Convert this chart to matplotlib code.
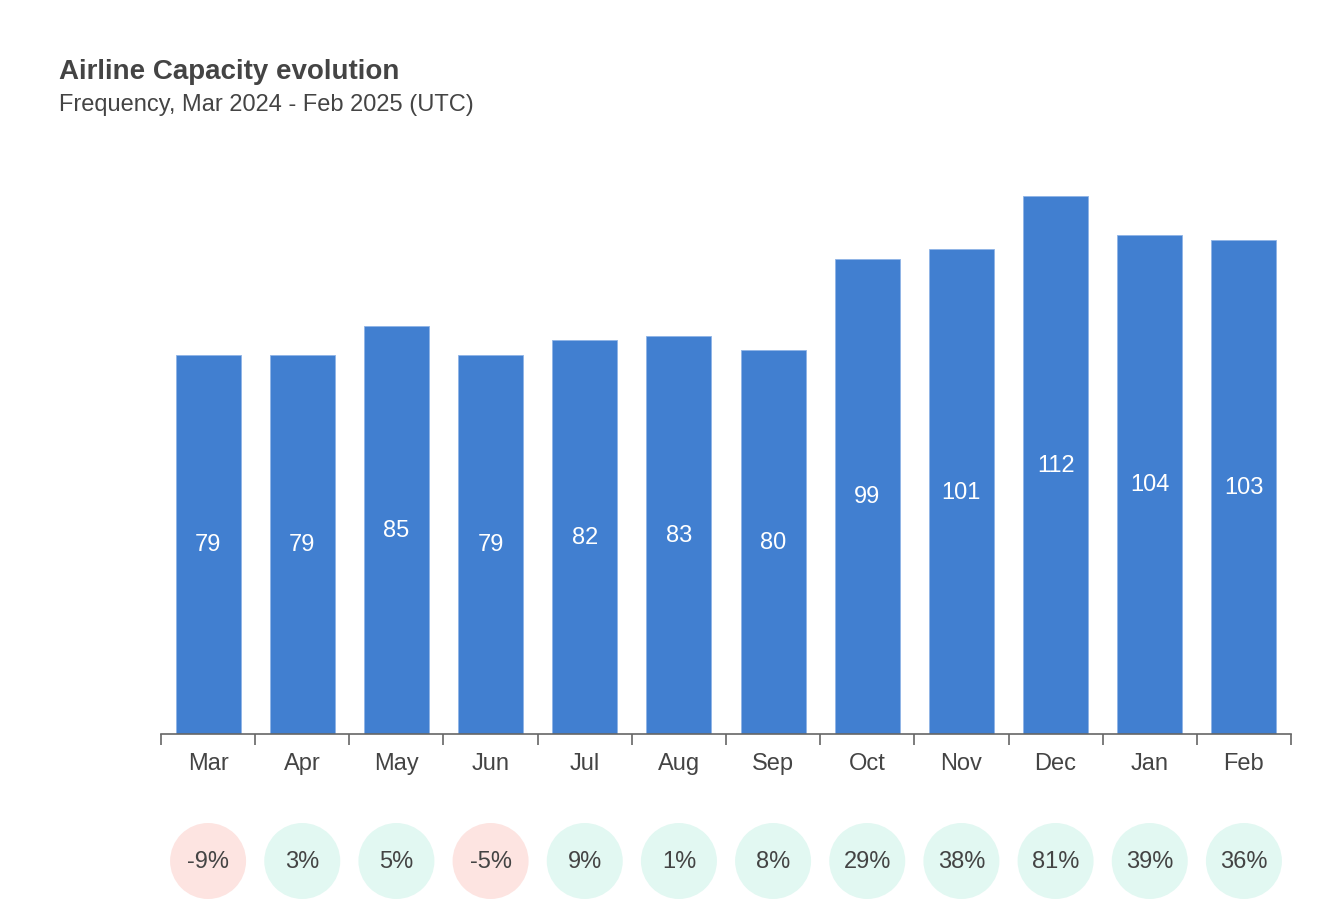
import numpy as np
import matplotlib.pyplot as plt

months = ["Mar", "Apr", "May", "Jun", "Jul", "Aug", "Sep", "Oct", "Nov", "Dec", "Jan", "Feb"]
values = [79, 79, 85, 79, 82, 83, 80, 99, 101, 112, 104, 103]
changes = [-9, 3, 5, -5, 9, 1, 8, 29, 38, 81, 39, 36]

plt.rcParams['font.family'] = ['Liberation Sans', 'DejaVu Sans']
txt = '#444444'

fig = plt.figure(figsize=(13.38, 9.12), dpi=100)
W, H = 1338, 912
ax = fig.add_axes([161 / W, 1 - 735 / H, (1291 - 161) / W, (735 - 150) / H])

x = np.arange(len(months))
ax.bar(x, values, width=0.69, color='#417fd0', edgecolor='#8fb4e6', linewidth=0.6)
for xi, v in zip(x, values):
    ax.text(xi, v / 2, str(v), ha='center', va='center', color='white', fontsize=17)

ax.set_xlim(-0.5, len(months) - 0.5)
ax.set_ylim(0, 585 / 4.8)
ax.set_yticks([])
for s in ['left', 'right', 'top']:
    ax.spines[s].set_visible(False)
ax.spines['bottom'].set_color('#666666')
ax.spines['bottom'].set_linewidth(1.2)

ax.set_xticks(x)
ax.set_xticklabels(months, fontsize=17, color=txt)
ax.tick_params(axis='x', which='major', length=0, pad=13)
ax.set_xticks(np.arange(-0.5, len(months)), minor=True)
ax.tick_params(axis='x', which='minor', length=8, width=1.2, color='#666666')

# change circles
cols = ['#fde4e1' if c < 0 else '#e2f8f2' for c in changes]
yc = -127 / 585
ax.scatter(x, [yc] * len(x), s=(76 * 72 / 100) ** 2, c=cols, transform=ax.get_xaxis_transform(),
           clip_on=False, linewidths=0)
for xi, c in zip(x, changes):
    ax.text(xi, yc, f"{c}%", ha='center', va='center', fontsize=17, color=txt,
            transform=ax.get_xaxis_transform(), clip_on=False)

fig.text(59 / W, 1 - 72 / H, "Airline Capacity evolution", fontsize=20, fontweight='bold',
         color=txt, ha='left', va='center')
fig.text(59 / W, 1 - 105 / H, "Frequency, Mar 2024 - Feb 2025 (UTC)", fontsize=17,
         color=txt, ha='left', va='center')

fig.savefig("out.png", dpi=100)
